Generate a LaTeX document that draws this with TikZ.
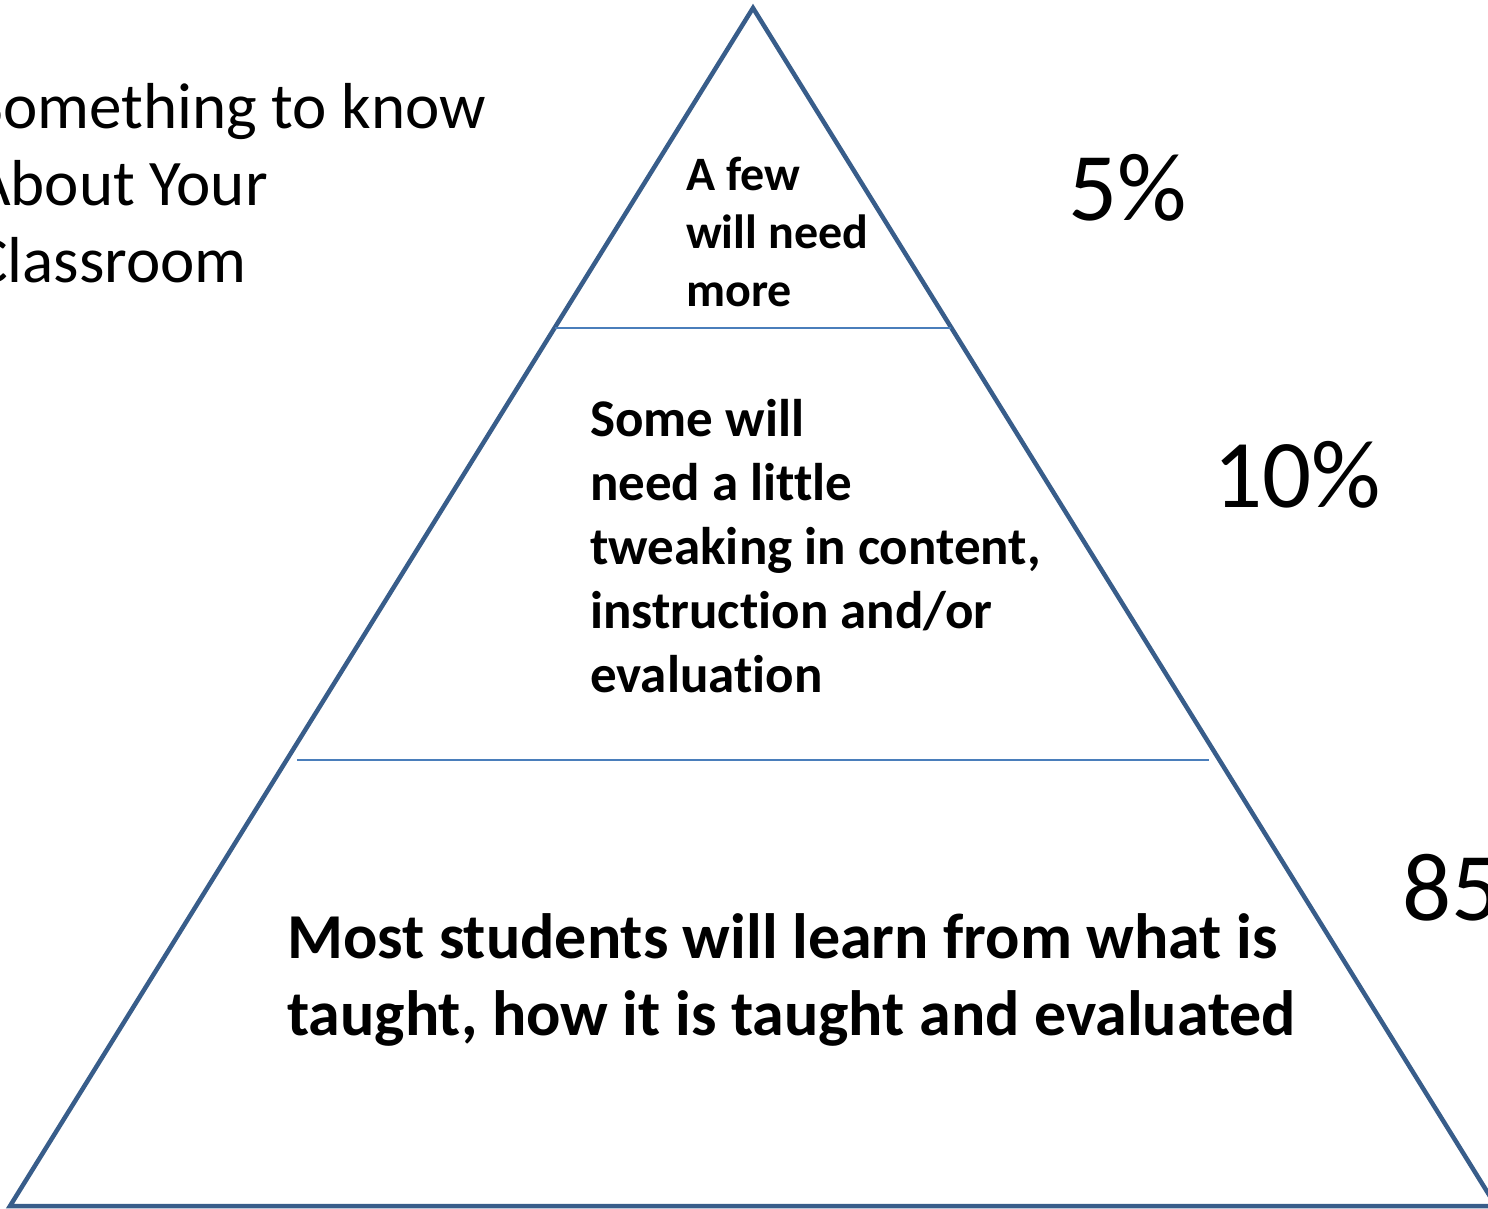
\documentclass[tikz,border=0pt]{standalone}
\usepackage{fontspec}
\setmainfont{Carlito}[Ligatures=NoCommon]
\definecolor{triline}{HTML}{385D8A}
\definecolor{sepline}{HTML}{4A7EBB}
\begin{document}
\begin{tikzpicture}[x=1pt,y=-1pt,
  outline/.style={draw=triline,line width=4.5pt,line join=miter},
  divider/.style={draw=sepline,line width=2.5pt},
  boldtxt/.style={inner sep=0pt,anchor=base west,align=left,font=\bfseries},
  pct/.style={inner sep=0pt,anchor=base west}]
\useasboundingbox (0,0) rectangle (1488,1209);
\clip (0,0) rectangle (1488,1209);
\coordinate (apex) at (753,8);
\coordinate (bl) at (10,1206);
\coordinate (br) at (1496,1206);
\draw[outline] (apex) -- (bl) -- (br) -- cycle;
\coordinate (d1l) at (555,328);
\coordinate (d1r) at (951,328);
\coordinate (d2l) at (297,760);
\coordinate (d2r) at (1209,760);
\draw[divider] (d1l) -- (d1r);
\draw[divider] (d2l) -- (d2r);
% base anchor = baseline of the last line
\node[inner sep=0pt,anchor=base west,align=left,font=\fontsize{65}{77}\selectfont] (title) at (-27,282) {Something to know\\About Your\\Classroom};
\node[boldtxt,font=\bfseries\fontsize{48}{58}\selectfont] (few) at (686,306) {A few\\will need\\more};
\node[boldtxt,font=\bfseries\fontsize{53}{64}\selectfont] (some) at (590,692) {Some will\\need a little\\tweaking in content,\\instruction and/or\\evaluation};
\node[boldtxt,font=\bfseries\fontsize{64}{77}\selectfont] (most) at (287,1035) {Most students will learn from what is\\taught, how it is taught and evaluated};
\node[pct,font=\fontsize{97}{100}\selectfont] (p5) at (1068,220) {5\%};
\node[pct,font=\fontsize{97}{100}\selectfont] (p10) at (1213,507) {10\%};
\node[pct,font=\fontsize{97}{100}\selectfont] (p85) at (1402,920) {85\%};
\end{tikzpicture}
\end{document}
